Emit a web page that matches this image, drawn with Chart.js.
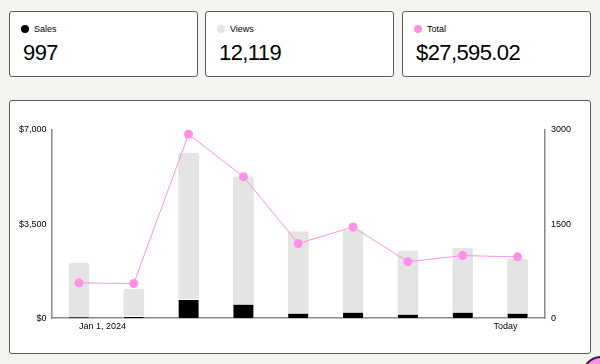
<!DOCTYPE html>
<html>
<head>
<meta charset="utf-8">
<script src="https://cdn.jsdelivr.net/npm/chart.js@4.4.1/dist/chart.umd.min.js"></script>
<style>
  html, body { margin: 0; padding: 0; }
  body {
    width: 600px; height: 364px; overflow: hidden;
    background: #f4f4f0;
    font-family: "Liberation Sans", Arial, sans-serif;
    color: #000;
    position: relative;
  }
  .card {
    position: absolute;
    top: 11px; height: 64px; width: 187px;
    background: #fff;
    border: 1px solid #5a5a5a;
    border-radius: 3px;
  }
  .card .label {
    position: absolute; left: 11px; top: 12px;
    font-size: 9px; display: flex; align-items: center;
  }
  .card .dot {
    width: 8px; height: 8px; border-radius: 50%;
    display: inline-block; margin-right: 5px;
  }
  .card .value {
    position: absolute; left: 13px; top: 30px;
    font-size: 22px; letter-spacing: -0.6px; line-height: 1;
  }
  .chart-card {
    position: absolute; left: 9px; top: 100px;
    width: 580px; height: 252px;
    background: #fff;
    border: 1px solid #5a5a5a;
    border-radius: 3px;
  }
  .chart-card canvas { position: absolute; left: 0; top: 0; }
  .fab {
    position: absolute; left: 582px; top: 356px;
    width: 34px; height: 34px; border-radius: 50%;
    background: #ff90e8; border: 2px solid #3b1f3b;
  }
</style>
</head>
<body>
<div class="card" style="left:9px"><div class="label"><span class="dot" style="background:#000"></span>Sales</div><div class="value">997</div></div>
<div class="card" style="left:205px"><div class="label"><span class="dot" style="background:#e4e4e4"></span>Views</div><div class="value">12,119</div></div>
<div class="card" style="left:402px"><div class="label"><span class="dot" style="background:#ff90e8"></span>Total</div><div class="value">$27,595.02</div></div>
<div class="chart-card"><canvas id="chart" width="580" height="252"></canvas></div>
<div class="fab"></div>
<script>
const labels = ["Jan 1, 2024", "", "", "", "", "", "", "", "Today"];
const views = [880, 460, 2630, 2255, 1375, 1395, 1070, 1115, 939];
const sales = [18, 28, 302, 226, 82, 98, 64, 97, 82];
const totals = [1315, 1289, 6842, 5265, 2780, 3392, 2100, 2330, 2282.02];

const pink = "#ff90e8";
const axisColor = "#8a8a8a";
const tickFont = { family: "Liberation Sans", size: 9 };

const ctx = document.getElementById("chart");

new Chart(ctx, {
  data: {
    labels,
    datasets: [
      {
        type: "line",
        data: totals,
        yAxisID: "y",
        borderColor: pink,
        borderWidth: 1,
        pointRadius: 4.5,
        pointBackgroundColor: pink,
        pointBorderWidth: 0,
        tension: 0,
        order: 0,
      },
      {
        type: "bar",
        data: sales,
        yAxisID: "y1",
        backgroundColor: "#000",
        borderColor: "#fff",
        borderWidth: { top: 1, left: 0, right: 0, bottom: 0 },
        borderSkipped: "start",
        barThickness: 20,
        grouped: false,
        order: 1,
      },
      {
        type: "bar",
        data: views,
        yAxisID: "y1",
        backgroundColor: "#e4e4e4",
        borderRadius: 2,
        barThickness: 20,
        grouped: false,
        order: 2,
      },
    ],
  },
  options: {
    responsive: false,
    animation: false,
    layout: {
      padding: { left: 4, right: 13, top: 29, bottom: 18 },
    },
    plugins: {
      legend: { display: false },
      tooltip: { enabled: false },
    },
    scales: {
      x: {
        grid: { display: false, drawTicks: false },
        border: { display: true, color: axisColor, width: 1.5 },
        ticks: {
          autoSkip: false,
          maxRotation: 0,
          align: "inner",
          color: "#000",
          font: tickFont,
          padding: 3,
        },
      },
      y: {
        position: "left",
        min: 0,
        max: 7000,
        grid: { display: false, drawTicks: false },
        border: { display: true, color: axisColor, width: 1.5 },
        ticks: {
          stepSize: 3500,
          color: "#000",
          font: tickFont,
          padding: 5,
          callback: (v) => "$" + v.toLocaleString("en-US"),
        },
      },
      y1: {
        position: "right",
        min: 0,
        max: 3000,
        grid: { display: false, drawTicks: false },
        border: { display: true, color: axisColor, width: 1.5 },
        ticks: {
          stepSize: 1500,
          color: "#000",
          font: tickFont,
          padding: 6,
          callback: (v) => String(v),
        },
      },
    },
  },
});
</script>
</body>
</html>
